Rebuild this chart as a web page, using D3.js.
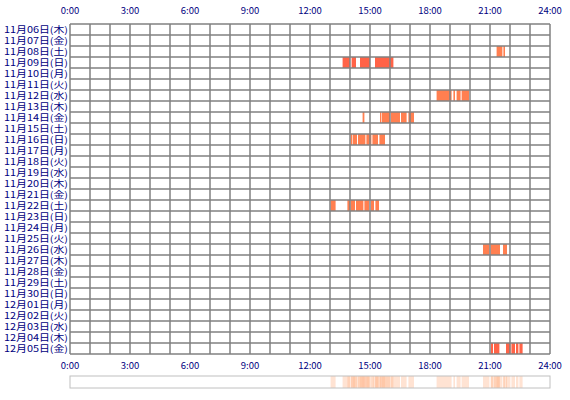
<!DOCTYPE html>
<html><head><meta charset="utf-8">
<script src="https://cdn.jsdelivr.net/npm/d3@7"></script>
<style>body{margin:0;background:#fff}</style>
</head><body><div id="chart"></div>
<script>
const days = ["11月06日(木)","11月07日(金)","11月08日(土)","11月09日(日)","11月10日(月)","11月11日(火)","11月12日(水)","11月13日(木)","11月14日(金)","11月15日(土)","11月16日(日)","11月17日(月)","11月18日(火)","11月19日(水)","11月20日(木)","11月21日(金)","11月22日(土)","11月23日(日)","11月24日(月)","11月25日(火)","11月26日(水)","11月27日(木)","11月28日(金)","11月29日(土)","11月30日(日)","12月01日(月)","12月02日(火)","12月03日(水)","12月04日(木)","12月05日(金)"];
const hourTicks = [0, 3, 6, 9, 12, 15, 18, 21, 24];
// [day index, start hour, end hour]
const sessions = [
  [2, 21.33, 21.62], [2, 21.67, 21.75],
  [3, 13.63, 14.0], [3, 14.08, 14.3], [3, 14.5, 15.0], [3, 15.25, 16.17],
  [6, 18.33, 19.08], [6, 19.17, 19.25], [6, 19.33, 19.53], [6, 19.58, 19.95],
  [8, 14.63, 14.72], [8, 15.5, 15.55], [8, 15.58, 16.0], [8, 16.05, 16.5], [8, 16.55, 16.83], [8, 16.92, 17.2],
  [10, 14.03, 14.1], [10, 14.13, 14.35], [10, 14.4, 14.77], [10, 14.82, 15.07], [10, 15.12, 15.4], [10, 15.47, 15.75],
  [16, 13.03, 13.28], [16, 13.87, 14.0], [16, 14.03, 14.25], [16, 14.3, 14.67], [16, 14.72, 14.95], [16, 15.05, 15.2], [16, 15.27, 15.45],
  [20, 20.65, 20.97], [20, 21.03, 21.5], [20, 21.65, 21.85],
  [29, 21.05, 21.15], [29, 21.2, 21.47], [29, 21.8, 22.02], [29, 22.07, 22.25], [29, 22.3, 22.42], [29, 22.47, 22.63]
];
const redRows = [3, 29];

const W = 570, H = 400;
const mLeft = 70, mRight = 550, mTop = 24, rowH = 11;
const svg = d3.select("#chart").append("svg").attr("width", W).attr("height", H)
  .style("font-family", "'Noto Sans CJK JP', sans-serif");

const x = d3.scaleLinear().domain([0, 24]).range([mLeft, mRight]);
const y = d3.scaleBand().domain(days.map((d, i) => i)).range([mTop, mTop + rowH * days.length]);
const mBottom = mTop + rowH * days.length;

// sessions
svg.append("g").selectAll("rect").data(sessions).join("rect")
  .attr("x", d => x(d[1])).attr("width", d => x(d[2]) - x(d[1]))
  .attr("y", d => y(d[0])).attr("height", rowH)
  .attr("fill", d => redRows.includes(d[0]) ? "#ff6347" : "#ff7f50");

// grid
const grid = svg.append("g").attr("stroke", "#808080").attr("stroke-width", 1.5);
grid.selectAll(".v").data(d3.range(25)).join("line")
  .attr("x1", d => x(d)).attr("x2", d => x(d)).attr("y1", mTop).attr("y2", mBottom);
grid.selectAll(".h").data(d3.range(days.length + 1)).join("line")
  .attr("x1", mLeft).attr("x2", mRight)
  .attr("y1", d => mTop + d * rowH).attr("y2", d => mTop + d * rowH);

// day labels
svg.append("g").selectAll("text").data(days).join("text")
  .attr("x", mLeft - 2).attr("y", (d, i) => y(i) + rowH / 2 + 3.3)
  .attr("text-anchor", "end").attr("font-size", 9).attr("fill", "#000080")
  .attr("textLength", 64).attr("lengthAdjust", "spacingAndGlyphs")
  .text(d => d);

// hour labels top and bottom
[14, mBottom + 15].forEach(ty => {
  svg.append("g").selectAll("text").data(hourTicks).join("text")
    .attr("x", d => x(d)).attr("y", ty).attr("text-anchor", "middle")
    .attr("font-size", 9.5).attr("fill", "#000080")
    .text(d => d + ":00");
});

// summary strip
const sy = 376, sh = 12;
svg.append("g").selectAll("rect").data(sessions).join("rect")
  .attr("x", d => x(d[1])).attr("width", d => x(d[2]) - x(d[1]))
  .attr("y", sy).attr("height", sh)
  .attr("fill", "#ffb890").attr("opacity", 0.4);
svg.append("rect").attr("x", mLeft).attr("y", sy).attr("width", mRight - mLeft).attr("height", sh)
  .attr("fill", "none").attr("stroke", "#c0c0c0");
</script></body></html>
